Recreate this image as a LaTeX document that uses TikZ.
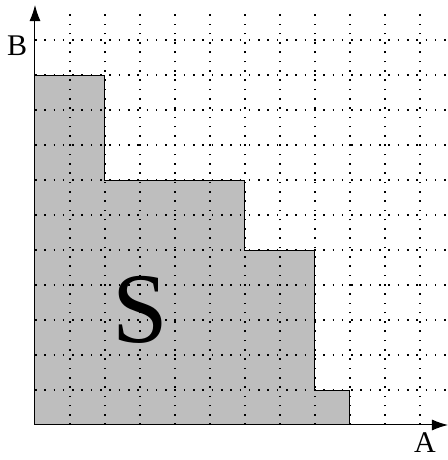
\documentclass[tikz,border=0pt]{standalone}
\usepackage{fontspec}
\setmainfont{Liberation Serif}
\usetikzlibrary{arrows.meta}
\definecolor{regiongray}{RGB}{190,190,190}
\tikzset{
  gridline/.style={line width=1.1pt, dash pattern=on 1.6pt off 7.7pt, black},
  axis/.style={line width=1pt, -{Latex[length=16pt,width=11pt]}},
  lbl/.style={font=\fontsize{30}{30}\selectfont, inner sep=0pt}
}
\begin{document}
\begin{tikzpicture}[x=35pt,y=35pt]
\useasboundingbox (-1,-1) rectangle (11.8,12.143);
\fill[fill=regiongray] (0,0) -- (0,10) -- (2,10) -- (2,7) -- (6,7) -- (6,5) -- (8,5) -- (8,1) -- (9,1) -- (9,0) -- cycle;
\foreach \i in {1,...,11} {
  \draw[gridline] (\i,0) -- (\i,11.9);
  \draw[gridline] (0,\i) -- (11.8,\i);
}
\draw[line width=1pt] (0,0) -- (0,10) -- (2,10) -- (2,7) -- (6,7) -- (6,5) -- (8,5) -- (8,1) -- (9,1) -- (9,0) -- cycle;
\coordinate (O) at (0,0);
\coordinate (xe) at (11.8,0);
\coordinate (ye) at (0,12);
\draw[axis] (O) -- (xe);
\draw[axis] (O) -- (ye);
\node[lbl, anchor=base] (B) at (-0.51,10.57) {B};
\node[lbl, anchor=base] (A) at (11.14,-0.78) {A};
\node[font=\fontsize{100}{100}\selectfont, inner sep=0pt, anchor=base] (S) at (3.0,2.37) {S};
\end{tikzpicture}
\end{document}
